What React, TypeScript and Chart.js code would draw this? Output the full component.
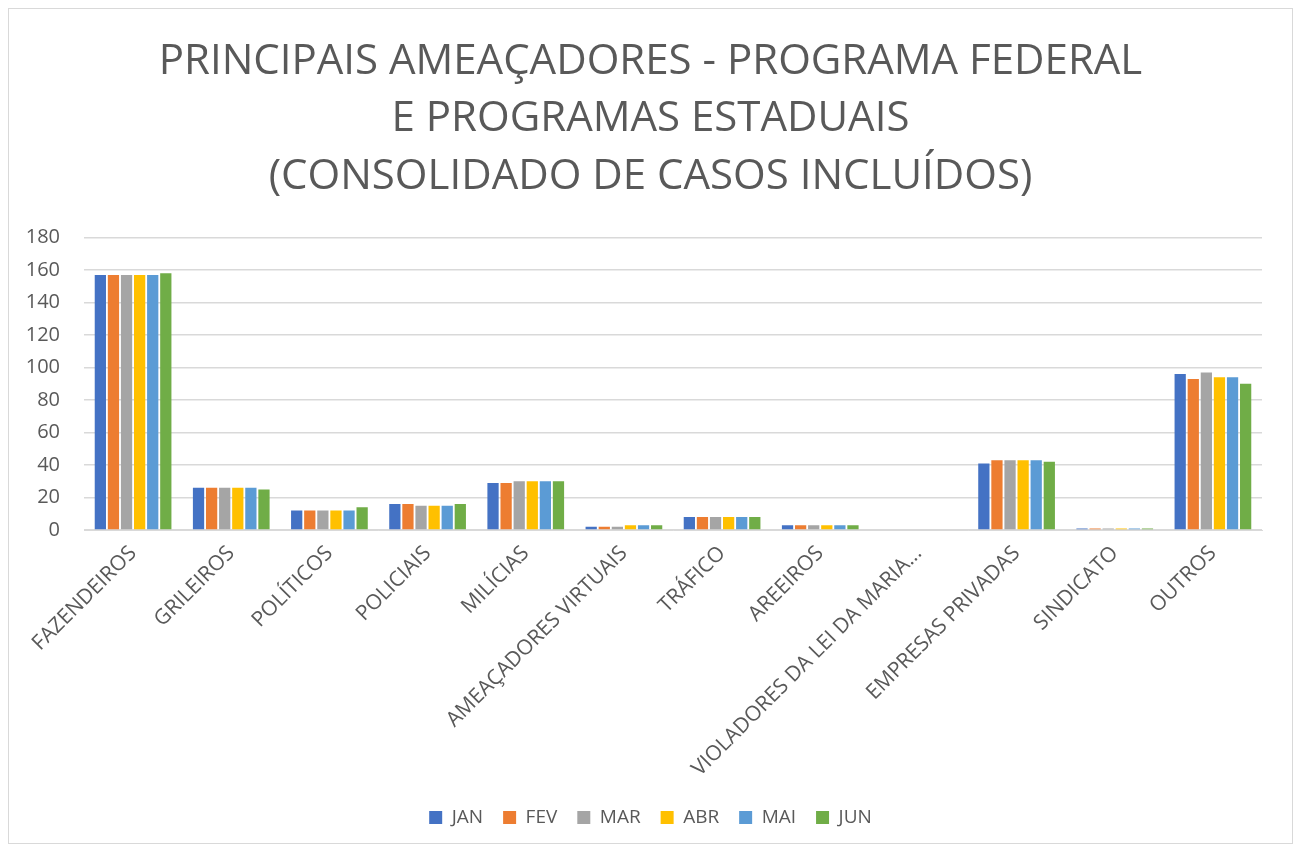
import React, { useEffect, useRef } from "react";
import { Chart, registerables } from "chart.js";

Chart.register(...registerables);

const categories = [
  "FAZENDEIROS",
  "GRILEIROS",
  "POLÍTICOS",
  "POLICIAIS",
  "MILÍCIAS",
  "AMEAÇADORES VIRTUAIS",
  "TRÁFICO",
  "AREEIROS",
  "VIOLADORES DA LEI DA MARIA...",
  "EMPRESAS PRIVADAS",
  "SINDICATO",
  "OUTROS",
];

const jan = [157, 26, 12, 16, 29, 2, 8, 3, 0, 41, 1, 96];
const fev = [157, 26, 12, 16, 29, 2, 8, 3, 0, 43, 1, 93];
const mar = [157, 26, 12, 15, 30, 2, 8, 3, 0, 43, 1, 97];
const abr = [157, 26, 12, 15, 30, 3, 8, 3, 0, 43, 1, 94];
const mai = [157, 26, 12, 15, 30, 3, 8, 3, 0, 43, 1, 94];
const jun = [158, 25, 14, 16, 30, 3, 8, 3, 0, 42, 1, 90];

const seriesNames = ["JAN", "FEV", "MAR", "ABR", "MAI", "JUN"];
const seriesColors = ["#4472C4", "#ED7D31", "#A5A5A5", "#FFC000", "#5B9BD5", "#70AD47"];

const titleLines = [
  "PRINCIPAIS AMEAÇADORES - PROGRAMA FEDERAL",
  "E PROGRAMAS ESTADUAIS",
  "(CONSOLIDADO DE CASOS INCLUÍDOS)",
];

const centerBoxes = {
  id: "centerBoxes",
  afterLayout(chart: any) {
    const boxes = [chart.titleBlock, chart.legend];
    for (const b of boxes) {
      if (!b) continue;
      b.left = 0;
      b.right = chart.width;
      b.width = chart.width;
    }
  },
};

export default function App() {
  const ref = useRef<HTMLCanvasElement | null>(null);
  useEffect(() => {
    if (!ref.current) return;
    const all = [jan, fev, mar, abr, mai, jun];
    const chart = new Chart(ref.current, {
      type: "bar",
      data: {
        labels: categories,
        datasets: all.map((d, i) => ({
          label: seriesNames[i],
          data: d,
          backgroundColor: seriesColors[i],
          borderWidth: 0,
          barPercentage: 0.86,
          categoryPercentage: 0.8,
        })),
      },
      plugins: [centerBoxes],
      options: {
        animation: false,
        responsive: false,
        maintainAspectRatio: false,
        layout: { padding: { left: 0, right: 30, top: 0, bottom: 6 } },
        plugins: {
          title: {
            display: true,
            text: titleLines,
            color: "#595959",
            font: { family: "'Open Sans', sans-serif", size: 42, weight: "normal", lineHeight: 1.37 },
            padding: { top: 24, bottom: 32 },
          },
          legend: {
            position: "bottom",
            labels: {
              color: "#595959",
              font: { family: "'Open Sans', sans-serif", size: 19 },
              boxWidth: 13,
              boxHeight: 13,
              padding: 20,
            },
          },
          tooltip: { enabled: false },
        },
        scales: {
          x: {
            grid: { display: false },
            border: { color: "#d9d9d9" },
            ticks: {
              color: "#595959",
              font: { family: "'Open Sans', sans-serif", size: 21 },
              minRotation: 45,
              maxRotation: 45,
              autoSkip: false,
            },
            afterFit: (s: any) => {
              s.height = 258;
            },
          },
          y: {
            min: 0,
            max: 180,
            ticks: {
              stepSize: 20,
              color: "#595959",
              font: { family: "'Open Sans', sans-serif", size: 20 },
              padding: 24,
            },
            afterFit: (s: any) => {
              s.width = 75;
            },
            grid: { color: "#d9d9d9", lineWidth: 1.5, drawTicks: false },
            border: { display: false },
          },
        },
      },
    });
    return () => chart.destroy();
  }, []);
  return (
    <div style={{ width: 1285, height: 836, border: "1px solid #d9d9d9", boxSizing: "border-box", background: "#fff" }}>
      <canvas ref={ref} width={1283} height={834} />
    </div>
  );
}
